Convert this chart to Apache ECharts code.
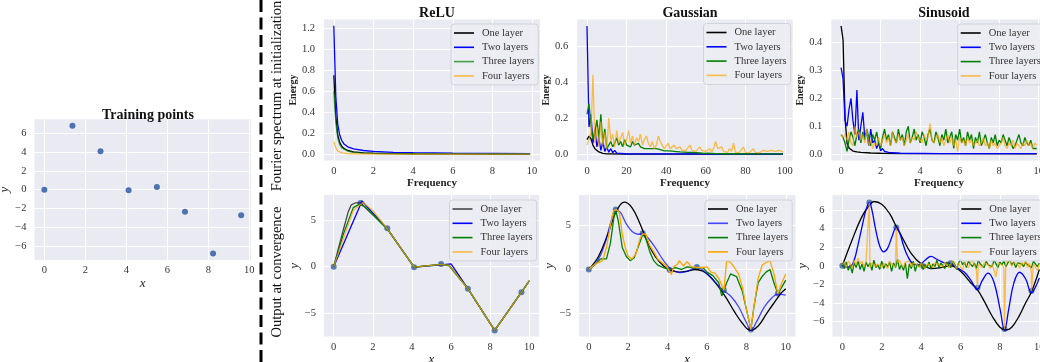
<!DOCTYPE html>
<html>
<head>
<meta charset="utf-8">
<script src="https://cdn.jsdelivr.net/npm/echarts@6/dist/echarts.min.js"></script>
<style>
  html, body { margin: 0; padding: 0; background: #fff; }
  #chart { width: 1040px; height: 362px; }
</style>
</head>
<body>
<div id="chart"></div>
<script>
// training points (x, y)
const trainX = [0, 1.37, 2.74, 4.11, 5.49, 6.86, 8.23, 9.6];
const trainY = [0, 6.8, 4.1, -0.05, 0.28, -2.35, -6.8, -2.72];

const layerNames = ['One layer', 'Two layers', 'Three layers', 'Four layers'];

// tick labels
const ticksTen = [0, 2, 4, 6, 8, 10];
const ticksHundred = [0, 20, 40, 60, 80, 100];
const ticksTrainY = [-6, -4, -2, 0, 2, 4, 6];
const ticksReluEnergy = [0, 0.2, 0.4, 0.6, 0.8, 1.0, 1.2];
const ticksGaussEnergy = [0, 0.2, 0.4, 0.6];
const ticksSinEnergy = [0, 0.1, 0.2, 0.3, 0.4];
const ticksOutput = [-5, 0, 5];
const ticksSinOutput = [-6, -4, -2, 0, 2, 4, 6];

// --- Fourier spectrum at initialization ---
// ReLU, [frequency, energy]
const reluSpecOne = [[0,0.75],[0.1,0.36],[0.2,0.18],[0.3,0.11],[0.4,0.075],[0.5,0.055],[0.7,0.035],[1,0.022],[1.5,0.013],[2,0.009],[3,0.006],[4,0.004],[6,0.003],[8,0.002],[9.9,0.002]];
const reluSpecTwo = [[0,1.22],[0.1,0.55],[0.2,0.28],[0.3,0.18],[0.4,0.13],[0.5,0.1],[0.7,0.07],[1,0.05],[1.5,0.035],[2,0.027],[3,0.018],[4,0.014],[6,0.01],[8,0.008],[9.9,0.006]];
const reluSpecThree = [[0,0.6],[0.1,0.3],[0.2,0.15],[0.3,0.09],[0.4,0.06],[0.5,0.045],[0.7,0.03],[1,0.018],[1.5,0.011],[2,0.008],[3,0.005],[4,0.004],[6,0.003],[8,0.002],[9.9,0.002]];
const reluSpecFour = [[0,0.12],[0.1,0.06],[0.2,0.03],[0.3,0.018],[0.4,0.012],[0.5,0.009],[0.7,0.006],[1,0.004],[2,0.002],[4,0.001],[9.9,0.001]];

// Gaussian, frequency 0..99
const gaussSpecOne = [[0,0.08],[1,0.1],[2,0.085],[3,0.05],[4,0.03],[5,0.02],[6,0.012],[7,0.007],[8,0.004],[9,0.002],[10,0.001],[20,0.0005],[99,0.0002]];
const gaussSpecTwo = [[0,0.71],[1,0.15],[2,0.22],[3,0.06],[4,0.14],[5,0.04],[6,0.09],[7,0.02],[8,0.07],[9,0.015],[10,0.04],[11,0.01],[12,0.03],[13,0.008],[14,0.02],[15,0.005],[16,0.012],[17,0.004],[18,0.008],[19,0.002],[20,0.003],[25,0.001],[99,0.0005]];
const gaussSpecThree = [0.22,0.28,0.16,0.08,0.12,0.19,0.09,0.22,0.06,0.14,
  0.03,0.05,0.07,0.04,0.06,0.09,0.05,0.07,0.04,0.08,
  0.05,0.06,0.04,0.07,0.05,0.04,0.06,0.04,0.05,0.03,
  0.04,0.03,0.035,0.03,0.025,0.03,0.02,0.025,0.02,0.018,
  0.015,0.018,0.014,0.016,0.012,0.014,0.01,0.012,0.009,0.011,
  0.008,0.01,0.007,0.009,0.006,0.008,0.005,0.006,0.005,0.004,
  0.004,0.005,0.003,0.004,0.003,0.003,0.002,0.003,0.002,0.002];
const gaussSpecThreeTail = [[75,0.002],[85,0.001],[99,0.001]];
const gaussSpecFour = [0.05,0.08,0.12,0.44,0.06,0.15,0.04,0.18,0.05,0.12,
  0.03,0.2,0.07,0.11,0.04,0.13,0.06,0.09,0.12,0.05,
  0.08,0.13,0.06,0.1,0.05,0.09,0.07,0.11,0.05,0.08,
  0.1,0.06,0.04,0.07,0.03,0.05,0.1,0.07,0.05,0.03,
  0.04,0.06,0.03,0.02,0.05,0.03,0.02,0.04,0.02,0.03,
  0.02,0.015,0.05,0.02,0.03,0.015,0.02,0.04,0.02,0.01,
  0.015,0.02,0.03,0.01,0.035,0.07,0.03,0.02,0.04,0.015,
  0.02,0.01,0.03,0.015,0.06,0.01,0.02,0.01,0.015,0.04,
  0.01,0.02,0.008,0.015,0.03,0.01,0.02,0.008,0.012,0.02,
  0.01,0.015,0.005,0.02,0.01,0.015,0.008,0.02,0.01,0.012];

// Sinusoid, frequency 0..9.9 step 0.1
const sinSpecOne = [[0,0.46],[0.1,0.41],[0.2,0.13],[0.3,0.04],[0.4,0.022],[0.5,0.015],[0.6,0.011],[0.8,0.008],[1,0.006],[1.5,0.004],[2,0.003],[3,0.002],[5,0.0015],[9.9,0.001]];
const sinSpecTwo = [0.31,0.27,0.12,0.1,0.16,0.2,0.12,0.07,0.23,0.05,
  0.1,0.15,0.06,0.08,0.03,0.09,0.04,0.05,0.02,0.04,
  0.012,0.02,0.01,0.012,0.006,0.004];
const sinSpecTwoTail = [[3,0.003],[5,0.002],[9.9,0.002]];
const sinSpecThree = [0.07,0.06,0.04,0.01,0.05,0.08,0.06,0.03,0.07,0.09,
  0.04,0.08,0.05,0.09,0.06,0.03,0.07,0.05,0.08,0.04,
  0.02,0.06,0.09,0.05,0.07,0.03,0.08,0.06,0.04,0.09,
  0.05,0.07,0.03,0.08,0.1,0.04,0.06,0.09,0.05,0.07,
  0.04,0.08,0.06,0.03,0.07,0.09,0.05,0.04,0.08,0.06,
  0.03,0.07,0.05,0.09,0.04,0.06,0.08,0.02,0.07,0.05,
  0.09,0.04,0.06,0.03,0.08,0.05,0.07,0.02,0.06,0.04,
  0.08,0.03,0.05,0.07,0.04,0.02,0.06,0.04,0.07,0.03,
  0.05,0.04,0.07,0.05,0.03,0.06,0.04,0.02,0.03,0.05,
  0.07,0.04,0.03,0.06,0.04,0.03,0.05,0.02,0.02,0.02];
const sinSpecFour = [0.07,0.06,0.07,0.05,0.08,0.04,0.03,0.1,0.06,0.08,
  0.05,0.07,0.04,0.09,0.03,0.05,0.02,0.04,0.03,0.06,
  0.03,0.05,0.07,0.04,0.06,0.03,0.08,0.05,0.04,0.07,
  0.05,0.06,0.03,0.05,0.07,0.04,0.06,0.05,0.08,0.06,
  0.05,0.04,0.07,0.05,0.06,0.11,0.05,0.04,0.06,0.07,
  0.04,0.06,0.03,0.05,0.07,0.04,0.06,0.03,0.05,0.01,
  0.06,0.04,0.05,0.03,0.06,0.04,0.05,0.03,0.04,0.05,
  0.03,0.04,0.06,0.03,0.04,0.02,0.05,0.03,0.04,0.02,
  0.03,0.04,0.06,0.03,0.02,0.04,0.03,0.05,0.02,0.04,
  0.03,0.02,0.04,0.03,0.05,0.03,0.04,0.02,0.04,0.03];

// --- Output at convergence ---
const reluOutOne = [[0,0],[0.25,2.0],[0.5,4.0],[0.75,5.9],[0.9,6.6],[1.1,6.8],[1.37,6.8],[2.74,4.05],[4.11,-0.05],[5.49,0.25],[5.9,0.15],[6.86,-2.35],[8.23,-6.8],[9.6,-2.72],[10,-1.5]];
const reluOutTwo = [[0,0],[1.45,7.0],[2.74,4.05],[4.11,-0.05],[5.49,0.2],[6.0,0.3],[6.86,-2.35],[8.23,-6.8],[9.6,-2.72],[10,-1.5]];
const reluOutThree = [[0,0],[0.5,3.5],[1.0,6.3],[1.3,6.65],[1.6,6.4],[2.0,5.6],[2.74,4.0],[4.11,-0.05],[5.49,0.25],[5.9,0.1],[6.86,-2.35],[8.23,-6.8],[9.6,-2.72],[10,-1.5]];
const reluOutFour = [[0,0],[0.5,3.0],[1.0,6.0],[1.5,6.85],[2.0,6.0],[2.74,4.05],[4.11,-0.05],[5.49,0.25],[5.9,0.15],[6.86,-2.35],[8.23,-6.8],[9.6,-2.72],[10,-1.5]];

const gaussOutOne = [[0,0],[0.5,1.5],[1,4.2],[1.4,6.6],[1.8,7.65],[2.2,7.0],[2.6,5.2],[3.0,3.0],[3.4,1.4],[3.8,0.4],[4.2,-0.1],[4.6,-0.3],[5.0,-0.2],[5.4,0],[5.8,-0.2],[6.2,-0.9],[6.6,-2.0],[7.0,-3.3],[7.4,-4.8],[7.8,-6.1],[8.2,-6.9],[8.6,-6.4],[9.0,-5.1],[9.4,-3.8],[9.8,-2.6],[10,-2.2]];
const gaussOutTwo = [[0,0],[0.4,0.8],[0.8,2.8],[1.1,5.2],[1.37,6.7],[1.6,6.5],[1.9,5.2],[2.2,4.3],[2.5,4.0],[2.74,4.05],[3.0,3.6],[3.4,2.4],[3.8,1.0],[4.2,0.0],[4.6,-0.35],[5.0,-0.2],[5.49,0.25],[5.8,-0.1],[6.2,-0.9],[6.6,-1.9],[6.86,-2.4],[7.2,-3.0],[7.6,-4.2],[8.0,-6.0],[8.23,-6.9],[8.5,-6.0],[8.9,-4.3],[9.3,-3.2],[9.6,-2.8],[10,-2.9]];
const gaussOutThree = [[0,0],[0.3,0.5],[0.6,1.2],[0.9,1.2],[1.1,3],[1.3,6.3],[1.37,6.7],[1.5,5.5],[1.7,2.5],[1.9,1.5],[2.1,1.0],[2.3,1.3],[2.5,2.5],[2.74,4.0],[2.9,3.5],[3.1,2.0],[3.3,1.0],[3.5,0.5],[3.8,0.2],[4.1,-0.05],[4.4,0.2],[4.7,0],[5.0,0.3],[5.3,0.2],[5.49,0.25],[5.8,0.2],[6.0,-0.3],[6.3,-0.7],[6.6,-1.5],[6.75,-3.0],[6.86,-2.4],[7.0,-1.5],[7.2,-0.5],[7.5,-0.8],[7.8,-2.5],[8.0,-4.5],[8.23,-6.8],[8.4,-4],[8.6,-1.5],[8.8,-0.8],[9.0,-0.3],[9.2,0],[9.4,-1.5],[9.6,-2.75],[9.8,-2.0],[10,-1.2]];
const gaussOutFour = [[0,0],[0.2,0.4],[0.4,0.7],[0.5,0.5],[0.7,1.0],[0.9,2.5],[1.1,5],[1.25,6.6],[1.4,6.8],[1.55,6.5],[1.7,4],[1.85,2.5],[2.0,1.5],[2.2,1.2],[2.4,1.8],[2.6,3.5],[2.74,4.05],[2.9,4.0],[3.1,2.7],[3.3,2.0],[3.5,1.2],[3.7,0.8],[3.9,0.5],[4.1,-0.2],[4.2,-0.6],[4.3,0.3],[4.5,0.6],[4.6,1.0],[4.8,0.4],[5.0,0.9],[5.2,0.3],[5.49,0.25],[5.7,0.2],[6.0,0.3],[6.2,-0.3],[6.4,-0.4],[6.6,-1.0],[6.86,-2.35],[7.0,1.0],[7.2,0.8],[7.4,0.2],[7.6,-0.5],[7.8,-2],[8.0,-4.5],[8.23,-6.8],[8.4,-4],[8.6,-1],[8.8,0.5],[9.0,0.8],[9.2,1.0],[9.4,-0.5],[9.6,-2.75],[9.8,-1.5],[10,-0.5]];

const sinOutOne = [[0,0],[0.5,2.8],[1,5.3],[1.37,6.5],[1.6,6.9],[2,6.6],[2.4,5.6],[2.74,4.2],[3,3.2],[3.5,1.3],[4,0.2],[4.5,-0.3],[5,-0.2],[5.5,0],[6,-0.6],[6.5,-1.8],[6.86,-2.6],[7.2,-3.8],[7.6,-5.4],[8,-6.6],[8.3,-6.9],[8.6,-6.6],[9,-5.3],[9.3,-4.0],[9.6,-2.8],[10,-0.4]];
const sinOutTwo = [[0,0],[0.2,-0.15],[0.4,-0.1],[0.6,0.6],[0.8,2.3],[1,4.2],[1.2,6.0],[1.37,6.8],[1.5,6.0],[1.7,3.8],[1.9,2.1],[2.1,1.5],[2.3,1.9],[2.5,3.0],[2.74,4.1],[2.9,3.6],[3.1,2.2],[3.3,1.1],[3.6,0.2],[3.9,0.1],[4.2,0.6],[4.5,1.0],[4.8,0.7],[5.2,0.3],[5.49,0.25],[5.8,-0.2],[6.2,-0.7],[6.5,-1.5],[6.86,-2.5],[7.1,-1.6],[7.4,-0.8],[7.7,-1.8],[8.0,-4.6],[8.23,-6.9],[8.45,-4.6],[8.7,-1.9],[9.0,-0.7],[9.3,-1.4],[9.6,-2.9],[9.8,-2.3],[10,-1.3]];
// x = 0..10 step 0.1
const sinOutThree = [0.2,-0.3,0.4,-0.5,0.1,-0.8,0.3,-0.2,0.5,-0.4,
  0.2,-0.6,0.4,-0.1,0.3,-0.5,0.6,-0.2,0.1,-0.4,
  0.5,-0.3,0.2,-0.1,0.4,-0.6,0.3,-0.2,0.7,-0.4,
  0.1,-0.5,0.3,-1.4,0.2,-0.3,0.5,-0.6,0.2,-0.1,
  0.3,-0.4,0.1,-0.2,0.4,-0.3,0.2,-0.1,0.6,-0.2,
  0.3,0.1,-0.3,0.4,0.1,-0.2,0.5,0.2,-0.4,0.3,
  0.7,0.1,0.4,-0.2,0.5,0.2,-0.1,0.3,-0.3,0.6,
  0.2,0.4,-0.2,0.5,0.1,0.3,-0.1,0.6,0.2,-0.2,
  0.4,0.1,0.5,-0.1,0.3,0.6,0.1,0.4,-0.2,0.3,
  0.5,0.2,-0.1,0.4,0.1,0.3,-0.2,0.5,0.2,-0.1,0.3];
const sinOutFour = [0.1,0.4,-0.2,0.5,0.2,-0.3,0.6,0.1,0.8,0.2,
  0.5,-0.1,0.4,0.2,-0.2,0.3,0.5,-0.1,0.2,0.4,
  -0.2,0.3,0.1,-0.3,0.5,0.2,0.4,-0.1,0.3,0.6,
  0.1,-0.2,0.4,0.2,0.5,-0.1,0.3,0.2,0.1,-0.2,
  0.3,0.1,-0.3,0.2,0.4,0.1,-0.2,0.3,0.5,0.1,
  0.2,-0.1,0.4,0.3,-0.2,0.2,0.5,0.1,-0.3,0.3,
  0.2,-0.5,0.4,0.1,-0.2,0.3,0.6,0.1,-0.4,0.2,
  0.4,-0.2,0.3,0.5,0.1,-0.3,0.2,0.4,-1.2,0.3,
  0.5,0.1,-0.2,0.4,0.2,0.6,-0.1,0.3,0.5,0.2,
  -0.3,0.4,0.1,0.5,-0.2,0.3,-0.8,0.2,0.4,-0.5,0.2];
const sinOutFourSpikes = [[1.37,6.8],[2.74,4.05],[6.86,-2.35],[8.23,-6.8],[9.6,-2.75]];

// helpers
function stepped(values, step) {
  return values.map((v, i) => [+(i * step).toFixed(3), v]);
}
function byX(a, b) { return a[0] - b[0]; }

const colors = ['#000000', '#0000ff', '#008000', '#ffa500'];
const serif = 'Liberation Serif';
const gridBg = '#eaeaf2';
const minus = v => String(v).replace('-', '\u2212');

const trainPts = trainX.map((x, i) => [x, trainY[i]]);

// panel 0 = training points, 1..3 top row, 4..6 bottom row
const panels = [
  { grid: [34.5, 119.3, 216.5, 140.7], x: [-0.48, 10.08], y: [-7.48, 7.5], xt: ticksTen, yt: ticksTrainY, xName: 'x', yName: 'y', yFmt: minus },
  { grid: [324, 19.5, 216, 141], x: [-0.495, 10.4], y: [-0.06, 1.28], xt: ticksTen, yt: ticksReluEnergy, xName: 'Frequency', yName: 'Energy', yFmt: v => v.toFixed(1),
    title: 'ReLU', legend: [451, 24], opac: [1, 1, 0.7, 0.7],
    lines: [reluSpecOne, reluSpecTwo, reluSpecThree, reluSpecFour] },
  { grid: [577.2, 19.5, 215.6, 141], x: [-4.95, 103.95], y: [-0.0355, 0.7455], xt: ticksHundred, yt: ticksGaussEnergy, xName: 'Frequency', yName: 'Energy', yFmt: v => v.toFixed(1),
    title: 'Gaussian', legend: [703.5, 23.5], opac: [1, 1, 1, 0.7],
    lines: [gaussSpecOne, gaussSpecTwo, stepped(gaussSpecThree, 1).concat(gaussSpecThreeTail), stepped(gaussSpecFour, 1)] },
  { grid: [831.3, 19.5, 215.3, 141], x: [-0.495, 10.4], y: [-0.023, 0.483], xt: ticksTen, yt: ticksSinEnergy, xName: 'Frequency', yName: 'Energy', yFmt: v => v.toFixed(1),
    title: 'Sinusoid', legend: [957.7, 24], opac: [1, 1, 1, 0.7],
    lines: [sinSpecOne, stepped(sinSpecTwo, 0.1).concat(sinSpecTwoTail), stepped(sinSpecThree, 0.1), stepped(sinSpecFour, 0.1)] },
  { grid: [323.9, 195, 215.2, 141.5], x: [-0.5, 10.5], y: [-7.45, 7.65], xt: ticksTen, yt: ticksOutput, xName: 'x', yName: 'y', yFmt: minus,
    legend: [449.5, 200], opac: [0.7, 1, 1, 0.7], points: true,
    lines: [reluOutOne, reluOutTwo, reluOutThree, reluOutFour] },
  { grid: [578.9, 195, 216.7, 141.5], x: [-0.5, 10.5], y: [-7.6, 8.45], xt: ticksTen, yt: ticksOutput, xName: 'x', yName: 'y', yFmt: minus,
    legend: [705, 200], opac: [1, 0.7, 1, 1], points: true, smooth: [0.4, 0.4, 0, 0],
    lines: [gaussOutOne, gaussOutTwo, gaussOutThree, gaussOutFour] },
  { grid: [832.5, 195, 216.7, 141.5], x: [-0.5, 10.5], y: [-7.6, 7.6], xt: ticksTen, yt: ticksSinOutput, xName: 'x', yName: 'y', yFmt: minus,
    legend: [958.3, 200], opac: [1, 1, 1, 0.7], points: true, smooth: [0.4, 0.4, 0, 0],
    lines: [sinOutOne, sinOutTwo, stepped(sinOutThree, 0.1), stepped(sinOutFour, 0.1).concat(sinOutFourSpikes).sort(byX)] }
];

const grids = [], xAxes = [], yAxes = [], series = [], legends = [], titles = [];

panels.forEach((p, i) => {
  const top = i >= 1 && i <= 3;
  // outerBoundsMode none: keep the exact plot size even where it runs past the right edge
  grids.push({ left: p.grid[0], top: p.grid[1], width: p.grid[2], height: p.grid[3],
    show: true, backgroundColor: gridBg, borderWidth: 0, containLabel: false, outerBoundsMode: 'none' });

  const italic = p.xName === 'x';
  xAxes.push({
    type: 'value', gridIndex: i, min: p.x[0], max: p.x[1],
    axisLine: { show: false },
    axisTick: { show: false, customValues: p.xt },
    axisLabel: { customValues: p.xt, margin: 5, fontFamily: serif, fontSize: 10.5, color: '#333', formatter: minus },
    splitLine: { show: true, lineStyle: { color: '#ffffff', width: 1 } },
    name: p.xName, nameLocation: 'middle', nameGap: italic ? (i === 0 ? 17 : 15) : 15.5,
    nameTextStyle: italic
      ? { fontFamily: serif, fontStyle: 'italic', fontSize: 13, color: '#222' }
      : { fontFamily: serif, fontWeight: 'bold', fontSize: 11, color: '#222' }
  });
  yAxes.push({
    type: 'value', gridIndex: i, min: p.y[0], max: p.y[1],
    axisLine: { show: false },
    axisTick: { show: false, customValues: p.yt },
    axisLabel: { customValues: p.yt, margin: top ? 9 : 8, fontFamily: serif, fontSize: 10.5, color: '#333', formatter: p.yFmt },
    splitLine: { show: true, lineStyle: { color: '#ffffff', width: 1 } },
    name: p.yName, nameLocation: 'middle', nameGap: top ? 23 : 18,
    nameTextStyle: top
      ? { fontFamily: serif, fontWeight: 'bold', fontSize: 10, color: '#222' }
      : { fontFamily: serif, fontStyle: 'italic', fontSize: 13, color: '#222' }
  });

  if (i === 0) {
    series.push({ type: 'scatter', xAxisIndex: 0, yAxisIndex: 0, data: trainPts,
      symbolSize: 6, itemStyle: { color: '#4c72b0', opacity: 1 } });
    titles.push({ text: 'Training points', left: 143, top: 103, textAlign: 'center',
      textStyle: { fontFamily: serif, fontWeight: 'bold', fontSize: 14, color: '#111' } });
    return;
  }

  if (p.title) {
    titles.push({ text: p.title, left: p.grid[0] + p.grid[2] / 2, top: 1, textAlign: 'center',
      textStyle: { fontFamily: serif, fontWeight: 'bold', fontSize: 14, color: '#111' } });
  }

  if (p.points) {
    series.push({ type: 'scatter', xAxisIndex: i, yAxisIndex: i, data: trainPts, z: 1,
      symbolSize: 6, itemStyle: { color: '#4c72b0', opacity: 0.9 } });
  }

  // unique names per panel so each legend picks its own line style
  const names = layerNames.map(n => n + '\u200b'.repeat(i));
  p.lines.forEach((d, k) => {
    series.push({
      type: 'line', name: names[k], xAxisIndex: i, yAxisIndex: i, data: d,
      symbol: 'none', smooth: p.smooth ? p.smooth[k] : false, z: 3,
      lineStyle: { color: colors[k], width: 1.3, opacity: p.opac[k] },
      itemStyle: { color: colors[k], opacity: p.opac[k] }
    });
  });

  legends.push({
    data: names, orient: 'vertical', left: p.legend[0], top: p.legend[1],
    icon: 'rect', itemWidth: 20, itemHeight: 1.6, itemGap: 2.3, padding: [3, 4, 3, 3],
    backgroundColor: 'rgba(236,236,243,0.85)', borderColor: '#d2d2da', borderWidth: 1, borderRadius: 3,
    selectedMode: false,
    formatter: n => n.replace(/\u200b/g, ''),
    textStyle: { fontFamily: serif, fontSize: 10.5, lineHeight: 12, color: '#333', padding: [0, 0, 0, 3] }
  });
});

const chart = echarts.init(document.getElementById('chart'), null, { renderer: 'canvas' });
chart.setOption({
  animation: false,
  backgroundColor: '#ffffff',
  title: titles,
  grid: grids,
  xAxis: xAxes,
  yAxis: yAxes,
  legend: legends,
  series: series,
  graphic: [
    { type: 'line', shape: { x1: 261, y1: 0, x2: 261, y2: 362 },
      style: { stroke: '#000', lineWidth: 3, lineDash: [12, 5.5] } },
    { type: 'text', x: 277, y: 96, rotation: Math.PI / 2,
      style: { text: 'Fourier spectrum at initialization', fontFamily: serif, fontSize: 14.5,
        fill: '#111', textAlign: 'center', textVerticalAlign: 'middle' } },
    { type: 'text', x: 277, y: 272, rotation: Math.PI / 2,
      style: { text: 'Output at convergence', fontFamily: serif, fontSize: 14.5,
        fill: '#111', textAlign: 'center', textVerticalAlign: 'middle' } }
  ]
});
</script>
</body>
</html>
